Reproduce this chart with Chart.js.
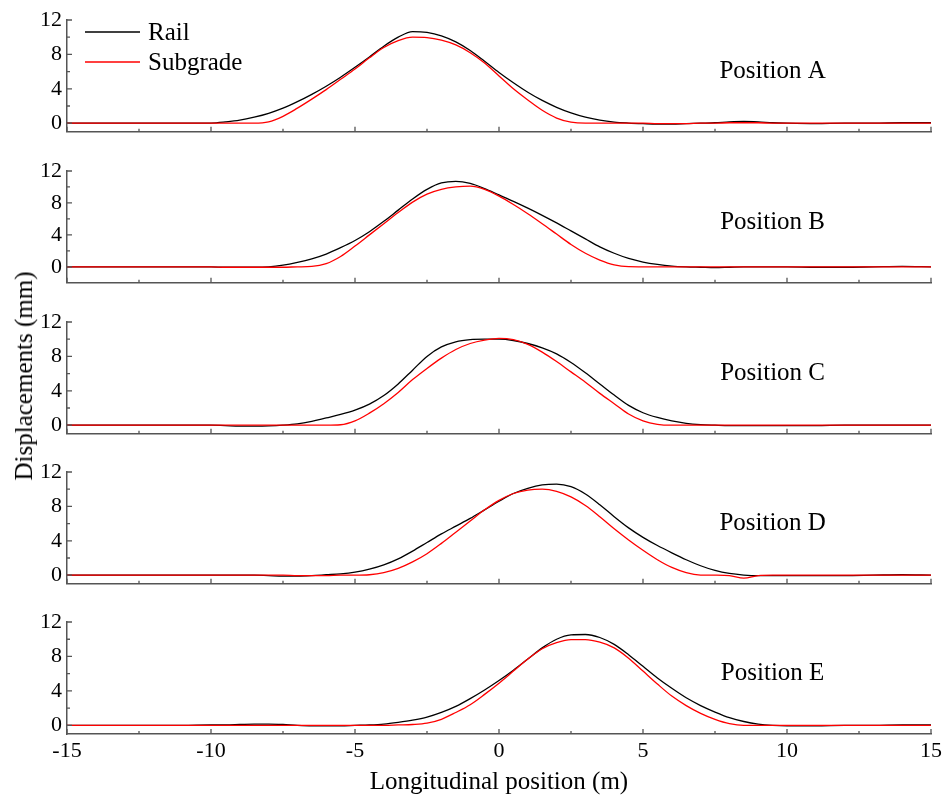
<!DOCTYPE html>
<html>
<head>
<meta charset="utf-8">
<script src="https://cdn.jsdelivr.net/npm/chart.js@4.4.1/dist/chart.umd.min.js"></script>
<style>
  body { margin: 0; background: #fff; }
  #wrap { position: relative; width: 951px; height: 801px; overflow: hidden; }
  #wrap canvas { position: absolute; left: 0; }
  #ytitle {
    position: absolute; left: 24px; top: 376px;
    transform: translate(-50%, -50%) rotate(-90deg);
    font: 25px 'Liberation Serif'; white-space: nowrap; color: #000;
  }
</style>
</head>
<body>
<div id="wrap">
  <canvas id="panelA" width="951" height="150" style="top:0px"></canvas>
  <canvas id="panelB" width="951" height="150" style="top:151px"></canvas>
  <canvas id="panelC" width="951" height="150" style="top:302px"></canvas>
  <canvas id="panelD" width="951" height="150" style="top:452px"></canvas>
  <canvas id="panelE" width="951" height="199" style="top:602px"></canvas>
  <div id="ytitle">Displacements (mm)</div>
</div>
<script>
// longitudinal positions (m), shared by all panels
const xPos = [-15, -14, -13, -12, -11,
  -10, -9.5, -9, -8.5, -8, -7.5, -7, -6.5, -6, -5.5,
  -5, -4.5, -4, -3.5, -3, -2.5, -2, -1.5, -1, -0.5,
  0, 0.5, 1, 1.5, 2, 2.5, 3, 3.5, 4, 4.5,
  5, 5.5, 6, 6.5, 7, 7.5, 8, 8.5, 9, 9.5,
  10, 11, 12, 13, 14, 15]

const railA = [0, 0, 0, 0, 0,
  0.02, 0.15, 0.35, 0.7, 1.15, 1.75, 2.5, 3.35, 4.3, 5.35,
  6.5, 7.7, 8.95, 10.0, 10.65, 10.55, 10.15, 9.45, 8.45, 7.2,
  5.9, 4.7, 3.6, 2.65, 1.85, 1.2, 0.7, 0.35, 0.13, 0.02,
  -0.05, -0.1, -0.1, -0.05, 0, 0.05, 0.15, 0.2, 0.15, 0.05,
  0, -0.05, 0, 0, 0.05, 0.05]
const subgradeA = [0, 0, 0, 0, 0,
  0, 0, 0, 0, 0.15, 0.8, 1.75, 2.8, 3.9, 5.1,
  6.3, 7.6, 8.8, 9.6, 10.0, 9.95, 9.65, 9.1, 8.2, 7.0,
  5.5, 4.0, 2.7, 1.5, 0.6, 0.12, 0, 0, 0, 0,
  0, -0.05, -0.05, -0.05, 0, 0, 0.05, 0.05, 0.05, 0,
  0, 0, 0, 0, 0, 0]

const railB = [0, 0, 0, 0, 0,
  0, -0.05, -0.05, -0.05, 0, 0.2, 0.55, 1.0, 1.6, 2.4,
  3.3, 4.4, 5.7, 7.1, 8.5, 9.7, 10.5, 10.7, 10.45, 9.8,
  9.0, 8.2, 7.35, 6.45, 5.5, 4.5, 3.5, 2.5, 1.7, 1.05,
  0.6, 0.3, 0.1, 0, -0.05, -0.1, -0.05, 0, 0, 0,
  0, -0.05, -0.05, 0, 0.05, 0]
const subgradeB = [0, 0, 0, 0, 0,
  0, -0.05, -0.05, -0.05, -0.05, -0.05, 0, 0.05, 0.4, 1.3,
  2.6, 4.0, 5.4, 6.8, 8.1, 9.1, 9.7, 10.0, 10.1, 9.7,
  8.85, 7.8, 6.65, 5.4, 4.1, 2.8, 1.7, 0.85, 0.25, 0.02,
  0, 0, 0, 0, 0, 0, 0, 0, 0, 0,
  0, 0, 0, 0, 0, 0]

const railC = [0, 0, 0, 0, 0,
  0, -0.05, -0.1, -0.1, -0.08, 0, 0.15, 0.45, 0.85, 1.25,
  1.75, 2.45, 3.45, 4.8, 6.4, 8.0, 9.1, 9.7, 9.95, 10.0,
  10.0, 9.85, 9.5, 9.0, 8.3, 7.3, 6.1, 4.8, 3.5, 2.3,
  1.45, 0.9, 0.5, 0.22, 0.07, 0, -0.05, -0.05, -0.05, -0.05,
  -0.05, -0.05, 0, 0, 0, 0]
const subgradeC = [0, 0, 0, 0, 0,
  0, 0, 0, 0, 0, 0, 0, 0, 0, 0.05,
  0.5, 1.4, 2.5, 3.8, 5.3, 6.6, 7.8, 8.8, 9.5, 9.9,
  10.1, 9.95, 9.4, 8.5, 7.4, 6.2, 5.0, 3.7, 2.5, 1.3,
  0.5, 0.1, 0, 0, 0, 0, 0, 0, 0, 0,
  0, 0, 0, 0, 0, 0]

const railD = [0, 0, 0, 0, 0,
  0, 0, 0, 0, -0.05, -0.1, -0.1, -0.05, 0.05, 0.15,
  0.35, 0.7, 1.2, 1.9, 2.8, 3.8, 4.8, 5.7, 6.6, 7.6,
  8.6, 9.5, 10.1, 10.5, 10.6, 10.3, 9.45, 8.2, 6.8, 5.5,
  4.4, 3.45, 2.6, 1.8, 1.1, 0.55, 0.2, 0.02, -0.05, -0.05,
  -0.05, -0.05, -0.05, 0, 0.05, 0]
const subgradeD = [0, 0, 0, 0, 0,
  0, 0, 0, 0, 0, 0, -0.05, -0.05, -0.05, 0,
  0, 0.05, 0.3, 0.8, 1.55, 2.5, 3.7, 5.0, 6.3, 7.6,
  8.7, 9.5, 9.9, 10.0, 9.75, 9.1, 8.1, 6.8, 5.4, 4.1,
  2.9, 1.8, 0.9, 0.3, 0.02, 0, -0.05, -0.35, -0.05, 0,
  0, 0, 0, 0, 0, 0]

const railE = [0, 0, 0, 0, 0,
  0.05, 0.05, 0.1, 0.15, 0.15, 0.1, 0, -0.05, -0.05, -0.05,
  0, 0.05, 0.15, 0.35, 0.6, 0.95, 1.5, 2.2, 3.1, 4.1,
  5.2, 6.4, 7.7, 9.0, 10.0, 10.5, 10.55, 10.2, 9.4, 8.2,
  6.85, 5.5, 4.3, 3.2, 2.3, 1.55, 0.9, 0.45, 0.15, 0,
  -0.05, -0.05, 0, 0, 0.05, 0.05]
const subgradeE = [0, 0, 0, 0, 0,
  0, 0, 0, 0, 0, 0, 0, 0, 0, 0,
  0, 0, 0, 0.05, 0.1, 0.25, 0.7, 1.5, 2.4, 3.6,
  4.9, 6.3, 7.7, 8.9, 9.6, 9.95, 9.95, 9.65, 9.0, 7.8,
  6.3, 4.8, 3.4, 2.3, 1.4, 0.7, 0.2, 0, 0, 0,
  0, 0, 0, 0, 0, 0]

const seriesNames = ['Rail', 'Subgrade']
const panelNames = ['Position A', 'Position B', 'Position C', 'Position D', 'Position E']
const panelRail = [railA, railB, railC, railD, railE]
const panelSubgrade = [subgradeA, subgradeB, subgradeC, subgradeD, subgradeE]
const yMins = [-1, -2, -1, -1, -1]
const yMax = 12
const yTickValues = [0, 4, 8, 12]
const yMinorValues = [2, 6, 10]
const xTickValues = [-15, -10, -5, 0, 5, 10, 15]
const xMinorValues = [-12.5, -7.5, -2.5, 2.5, 7.5, 12.5]

const FONT = 'Liberation Serif'
const AXIS_COLOR = '#555'

Chart.defaults.font.family = FONT
Chart.defaults.color = '#000'

// inward tick marks, panel label and legend
const panelDecor = {
  id: 'panelDecor',
  afterDraw(chart, args, opts) {
    const ctx = chart.ctx
    const xs = chart.scales.x
    const ys = chart.scales.y
    const area = chart.chartArea
    ctx.save()
    ctx.strokeStyle = AXIS_COLOR
    ctx.lineWidth = 1.3
    ctx.beginPath()
    yTickValues.forEach((v) => {
      const py = ys.getPixelForValue(v)
      ctx.moveTo(area.left, py)
      ctx.lineTo(area.left + 5, py)
    })
    yMinorValues.forEach((v) => {
      const py = ys.getPixelForValue(v)
      ctx.moveTo(area.left, py)
      ctx.lineTo(area.left + 3, py)
    })
    xTickValues.forEach((v) => {
      const px = xs.getPixelForValue(v)
      ctx.moveTo(px, area.bottom)
      ctx.lineTo(px, area.bottom - 5)
    })
    xMinorValues.forEach((v) => {
      const px = xs.getPixelForValue(v)
      ctx.moveTo(px, area.bottom)
      ctx.lineTo(px, area.bottom - 3)
    })
    ctx.stroke()

    ctx.fillStyle = '#000'
    ctx.font = '25px "' + FONT + '"'
    ctx.textAlign = 'center'
    ctx.textBaseline = 'middle'
    ctx.fillText(opts.label, xs.getPixelForValue(9.5), area.top + 51)

    if (opts.legend) {
      ctx.textAlign = 'left'
      chart.data.datasets.forEach((ds, i) => {
        const ly = 32 + i * 30
        ctx.strokeStyle = ds.borderColor
        ctx.lineWidth = 1.3
        ctx.beginPath()
        ctx.moveTo(85, ly)
        ctx.lineTo(140, ly)
        ctx.stroke()
        ctx.fillText(ds.label, 148, ly + 1)
      })
    }
    ctx.restore()
  }
}

const canvasIds = ['panelA', 'panelB', 'panelC', 'panelD', 'panelE']

canvasIds.forEach((id, p) => {
  const isBottom = p === canvasIds.length - 1
  const ctx = document.getElementById(id).getContext('2d')
  new Chart(ctx, {
    type: 'line',
    data: {
      datasets: [
        {
          label: seriesNames[0],
          data: xPos.map((x, i) => ({ x, y: panelRail[p][i] })),
          borderColor: '#000000',
          borderWidth: 1.3,
          pointRadius: 0,
          cubicInterpolationMode: 'monotone',
          order: 1
        },
        {
          label: seriesNames[1],
          data: xPos.map((x, i) => ({ x, y: panelSubgrade[p][i] })),
          borderColor: '#ff0000',
          borderWidth: 1.3,
          pointRadius: 0,
          cubicInterpolationMode: 'monotone',
          order: 0
        }
      ]
    },
    options: {
      responsive: false,
      animation: false,
      devicePixelRatio: 1,
      events: [],
      layout: { padding: { top: 20, right: 20, bottom: 0, left: 0 } },
      scales: {
        x: {
          type: 'linear',
          min: -15,
          max: 15,
          afterBuildTicks: (scale) => {
            scale.ticks = xTickValues.map((v) => ({ value: v }))
          },
          afterFit: (scale) => {
            scale.height = isBottom ? 67 : 18
          },
          grid: { display: false, drawTicks: false },
          border: { display: true, color: AXIS_COLOR, width: 1.5 },
          ticks: {
            display: isBottom,
            padding: 4,
            maxRotation: 0,
            font: { size: 22 },
            color: '#000'
          },
          title: {
            display: isBottom,
            text: 'Longitudinal position (m)',
            font: { size: 25 },
            color: '#000',
            padding: { top: 0, bottom: 4 }
          }
        },
        y: {
          min: yMins[p],
          max: yMax,
          afterBuildTicks: (scale) => {
            scale.ticks = yTickValues.map((v) => ({ value: v }))
          },
          afterFit: (scale) => {
            scale.width = 67
          },
          grid: { display: false, drawTicks: false },
          border: { display: true, color: AXIS_COLOR, width: 1.5 },
          ticks: {
            padding: 5,
            font: { size: 22 },
            color: '#000'
          }
        }
      },
      plugins: {
        legend: { display: false },
        tooltip: { enabled: false },
        panelDecor: { label: panelNames[p], legend: p === 0 }
      }
    },
    plugins: [panelDecor]
  })
})
</script>
</body>
</html>
